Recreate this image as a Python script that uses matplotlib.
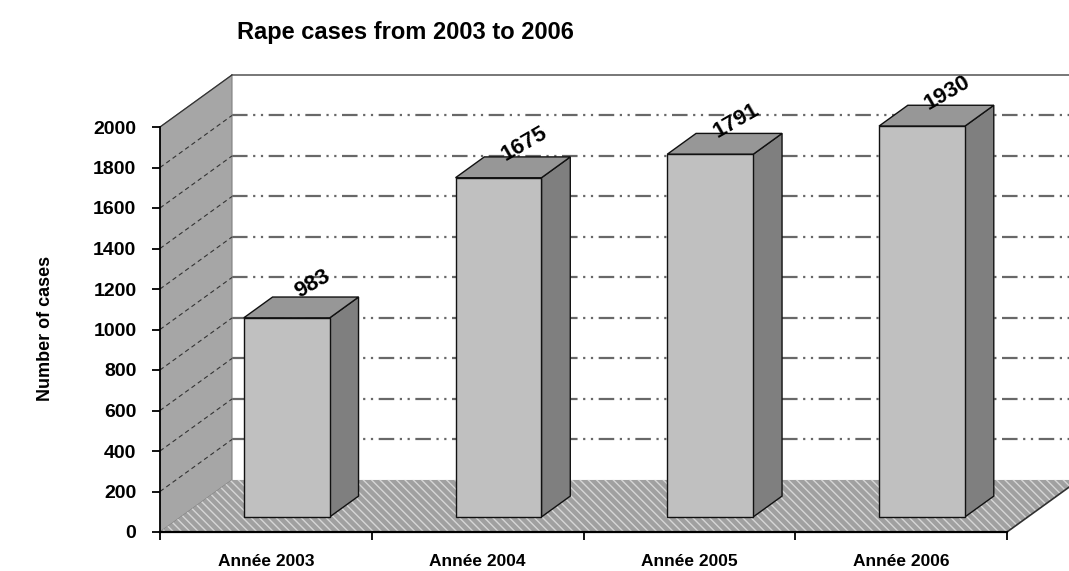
import matplotlib
matplotlib.use("Agg")
import matplotlib.pyplot as plt
from matplotlib.patches import Polygon
import numpy as np

plt.rcParams['font.family'] = ['Liberation Sans', 'DejaVu Sans']
plt.rcParams['hatch.linewidth'] = 1.0

categories = ['Année 2003', 'Année 2004', 'Année 2005', 'Année 2006']
cases = [983, 1675, 1791, 1930]
yticks = list(range(0, 2001, 200))

# fake 3d: depth offset in data units (category units / value units)
DX = 0.34
DY = 257.0
d0, d1 = 0.29, 0.69   # bar front / back depth
hw = 0.203            # half bar width

fig = plt.figure(figsize=(10.69, 5.71), dpi=100)
ax = fig.add_axes([160/1069, 39/571, 909/1069, 472/571])
ax.set_xlim(0, 909/211.75)
ax.set_ylim(0, 472/0.2025)

def P(x, y, d):
    return (x + d*DX, y + d*DY)

n = len(categories)
ymax = yticks[-1]
xr = ax.get_xlim()[1] + 0.2

# back wall
ax.add_patch(Polygon([P(0, 0, 1), P(xr, 0, 1), P(xr, ymax, 1), P(0, ymax, 1)],
                     closed=True, facecolor='white', edgecolor='none', zorder=0))
for v in yticks[1:-1]:
    ax.plot([DX, xr], [v + DY, v + DY], color='#686868', lw=1.6,
            ls=(0, (7, 2.5, 1, 2.5, 1, 2.5)), zorder=1)
ax.plot([DX, xr], [ymax + DY, ymax + DY], color='#606060', lw=1.2, zorder=1)

# side wall
ax.add_patch(Polygon([P(0, 0, 0), P(0, ymax, 0), P(0, ymax, 1), P(0, 0, 1)],
                     closed=True, facecolor='#a6a6a6', edgecolor='#808080', lw=0.8, zorder=2))
for v in yticks[1:-1]:
    ax.plot([0, DX], [v, v + DY], color='#333333', lw=0.8, ls=(0, (4, 3)), zorder=2.5)
ax.plot([0, DX], [ymax, ymax + DY], color='#333333', lw=0.9, zorder=2.5)

# floor
floor = [P(0, 0, 0), P(n, 0, 0), P(n, 0, 1), P(0, 0, 1)]
ax.add_patch(Polygon(floor, closed=True, facecolor='#a0a0a0', edgecolor='#d6d6d6',
                     hatch='\\\\\\\\', lw=0, zorder=2))
ax.plot([n, n + DX], [0, DY], color='#303030', lw=1.2, zorder=2.6)

# bars
for i, v in enumerate(cases):
    c = i + 0.5
    l, r = c - hw, c + hw
    front = [P(l, 0, d0), P(r, 0, d0), P(r, v, d0), P(l, v, d0)]
    side = [P(r, 0, d0), P(r, 0, d1), P(r, v, d1), P(r, v, d0)]
    top = [P(l, v, d0), P(r, v, d0), P(r, v, d1), P(l, v, d1)]
    ax.add_patch(Polygon(side, closed=True, facecolor='#7f7f7f', edgecolor='#111111', lw=1, zorder=3))
    ax.add_patch(Polygon(top, closed=True, facecolor='#979797', edgecolor='#111111', lw=1, zorder=3))
    ax.add_patch(Polygon(front, closed=True, facecolor='#c0c0c0', edgecolor='#111111', lw=1, zorder=3))
    ax.text(c + 0.22, v + 240, f"{v}", rotation=30, ha='center', va='center',
            fontsize=16, fontweight='bold', zorder=5)

# axes
for s in ['top', 'right']:
    ax.spines[s].set_visible(False)
ax.spines['left'].set_bounds(0, ymax)
ax.spines['bottom'].set_bounds(0, n)
ax.spines['left'].set_linewidth(1.3)
ax.spines['bottom'].set_linewidth(1.6)
ax.spines['bottom'].set_zorder(4)
ax.set_yticks(yticks)
ax.set_yticklabels([str(t) for t in yticks], fontsize=14, fontweight='bold')
ax.set_xticks(np.arange(n + 1))
ax.set_xticklabels([])
ax.set_xticks(np.arange(n) + 0.5, minor=True)
ax.set_xticklabels(categories, minor=True, fontsize=12.5, fontweight='bold')
ax.tick_params(axis='y', length=6, width=1.3, pad=11)
ax.tick_params(axis='x', which='major', length=6, width=1.3)
ax.tick_params(axis='x', which='minor', length=0, pad=16)

fig.text(237/1069, 1 - 33/571, "Rape cases from 2003 to 2006", fontsize=17,
         fontweight='bold', ha='left', va='center')
fig.text(46/1069, 1 - 328/571, "Number of cases", rotation=90, fontsize=13,
         fontweight='bold', ha='center', va='center')

fig.savefig('out.png', dpi=100)
